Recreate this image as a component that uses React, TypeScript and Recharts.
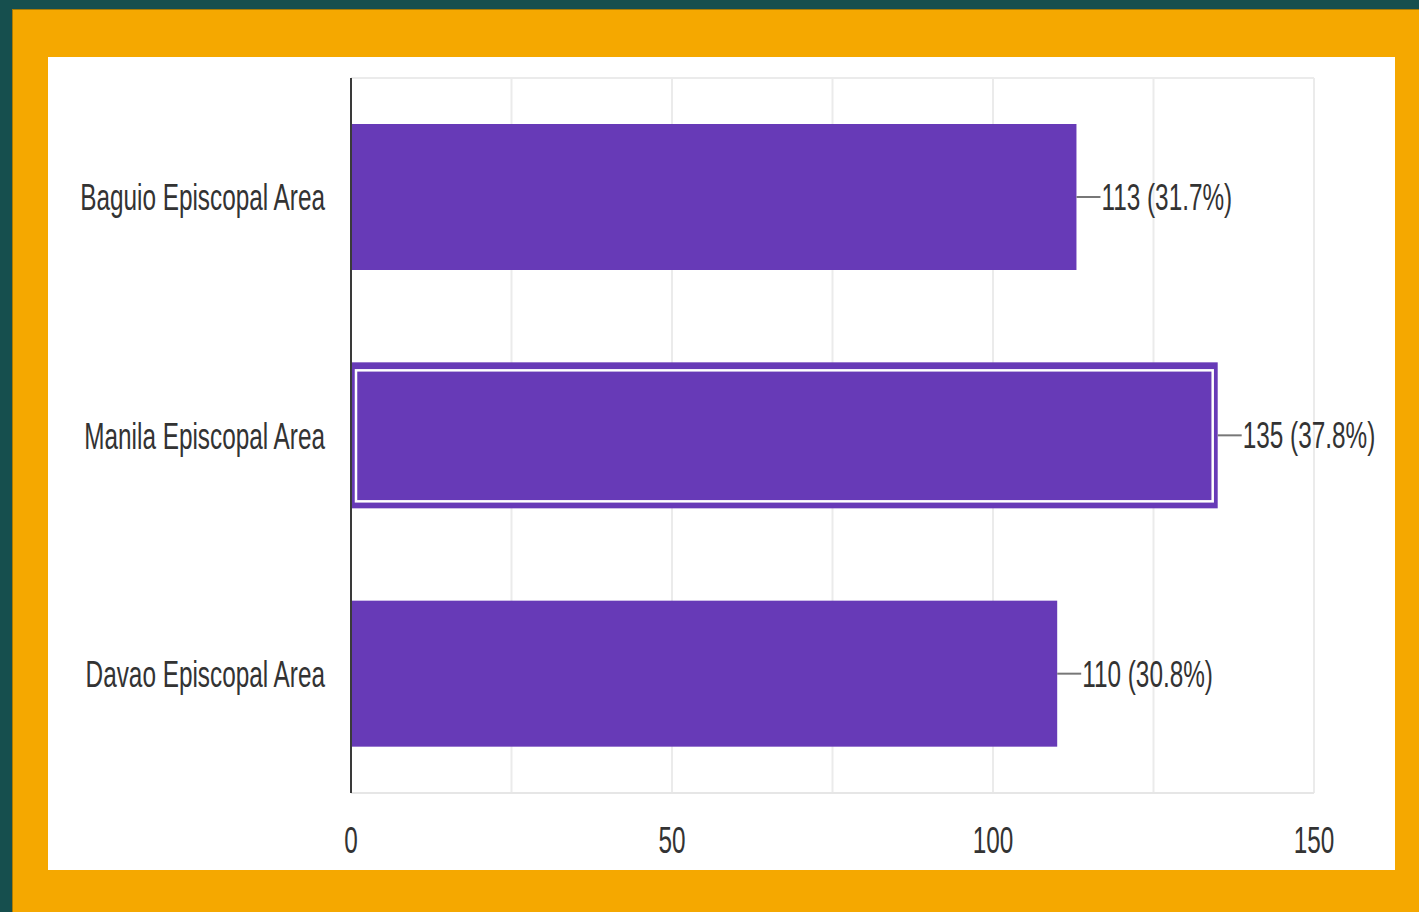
import React from 'react';
import { BarChart, Bar, XAxis, YAxis, CartesianGrid, LabelList } from 'recharts';

const areas = ['Baguio Episcopal Area', 'Manila Episcopal Area', 'Davao Episcopal Area'];
const counts = [113, 135, 110];
const percents = ['31.7%', '37.8%', '30.8%'];
const xTicks = [0, 25, 50, 75, 100, 125, 150];
const labeledTicks = [0, 50, 100, 150];

const data = areas.map((name, i) => ({ name, count: counts[i], pct: percents[i] }));

const FONT = '"Liberation Sans", Arial, sans-serif';
const SQUISH = 0.676;
const PURPLE = '#673ab7';

const YTick = (props: any) => {
  const { x, y, payload } = props;
  return (
    <g transform={`translate(${x},${y + 13})`}>
      <text transform={`scale(${SQUISH},1)`} textAnchor="end" fontFamily={FONT} fontSize={36} fill="#333">
        {payload.value}
      </text>
    </g>
  );
};

const XTick = (props: any) => {
  const { x, y, payload } = props;
  if (!labeledTicks.includes(payload.value)) return <g />;
  return (
    <g transform={`translate(${x},${y + 58})`}>
      <text transform={`scale(${SQUISH},1)`} textAnchor="middle" fontFamily={FONT} fontSize={36} fill="#333">
        {payload.value}
      </text>
    </g>
  );
};

// bar with the white inner outline on the highlighted (largest) one
const BarShape = (props: any) => {
  const { x, y, width, height, index } = props;
  const highlighted = counts[index] === Math.max(...counts);
  return (
    <g>
      <rect x={x} y={y} width={width} height={height} fill={PURPLE} />
      {highlighted && (
        <rect x={x + 5} y={y + 8} width={width - 10} height={height - 15} fill="none" stroke="#fff" strokeWidth={2.5} />
      )}
    </g>
  );
};

const ValueLabel = (props: any) => {
  const { x, y, width, height, index } = props;
  const ex = x + width;
  const cy = y + height / 2;
  return (
    <g>
      <line x1={ex} y1={cy} x2={ex + 24} y2={cy} stroke="#777" strokeWidth={2} />
      <g transform={`translate(${ex + 25},${cy + 13})`}>
        <text transform={`scale(${SQUISH},1)`} fontFamily={FONT} fontSize={36} fill="#333">
          {`${counts[index]} (${percents[index]})`}
        </text>
      </g>
    </g>
  );
};

export default function App() {
  return (
    <div style={{ position: 'absolute', left: 0, top: 0, width: 1419, height: 912, background: '#164f4e', overflow: 'hidden' }}>
      <div
        style={{
          position: 'absolute',
          left: 12,
          top: 9,
          width: 1407,
          height: 903,
          background: '#f5a800',
          borderLeft: '1px solid #a87a06',
          borderTop: '1px solid #a87a06',
          boxSizing: 'border-box',
        }}
      />
      <div style={{ position: 'absolute', left: 48, top: 57, width: 1347, height: 813, background: '#fff' }}>
        <BarChart
          width={1347}
          height={813}
          data={data}
          layout="vertical"
          margin={{ top: 21, right: 81, left: 0, bottom: 0 }}
          barSize={146}
        >
          <CartesianGrid
            stroke="#ebebeb"
            strokeWidth={2}
            horizontalCoordinatesGenerator={({ offset }: any) => [offset.top, offset.top + offset.height]}
          />
          <XAxis
            type="number"
            domain={[0, 150]}
            ticks={xTicks}
            height={77}
            tickLine={false}
            tickSize={0}
            axisLine={{ stroke: '#e6e6e6', strokeWidth: 2 }}
            tick={<XTick />}
            interval={0}
          />
          <YAxis
            type="category"
            dataKey="name"
            width={303}
            tickLine={false}
            tickSize={0}
            tickMargin={26}
            axisLine={{ stroke: '#3a3a3a', strokeWidth: 2 }}
            tick={<YTick />}
          />
          <Bar dataKey="count" fill={PURPLE} shape={<BarShape />} isAnimationActive={false}>
            <LabelList dataKey="count" content={<ValueLabel />} />
          </Bar>
        </BarChart>
      </div>
    </div>
  );
}
